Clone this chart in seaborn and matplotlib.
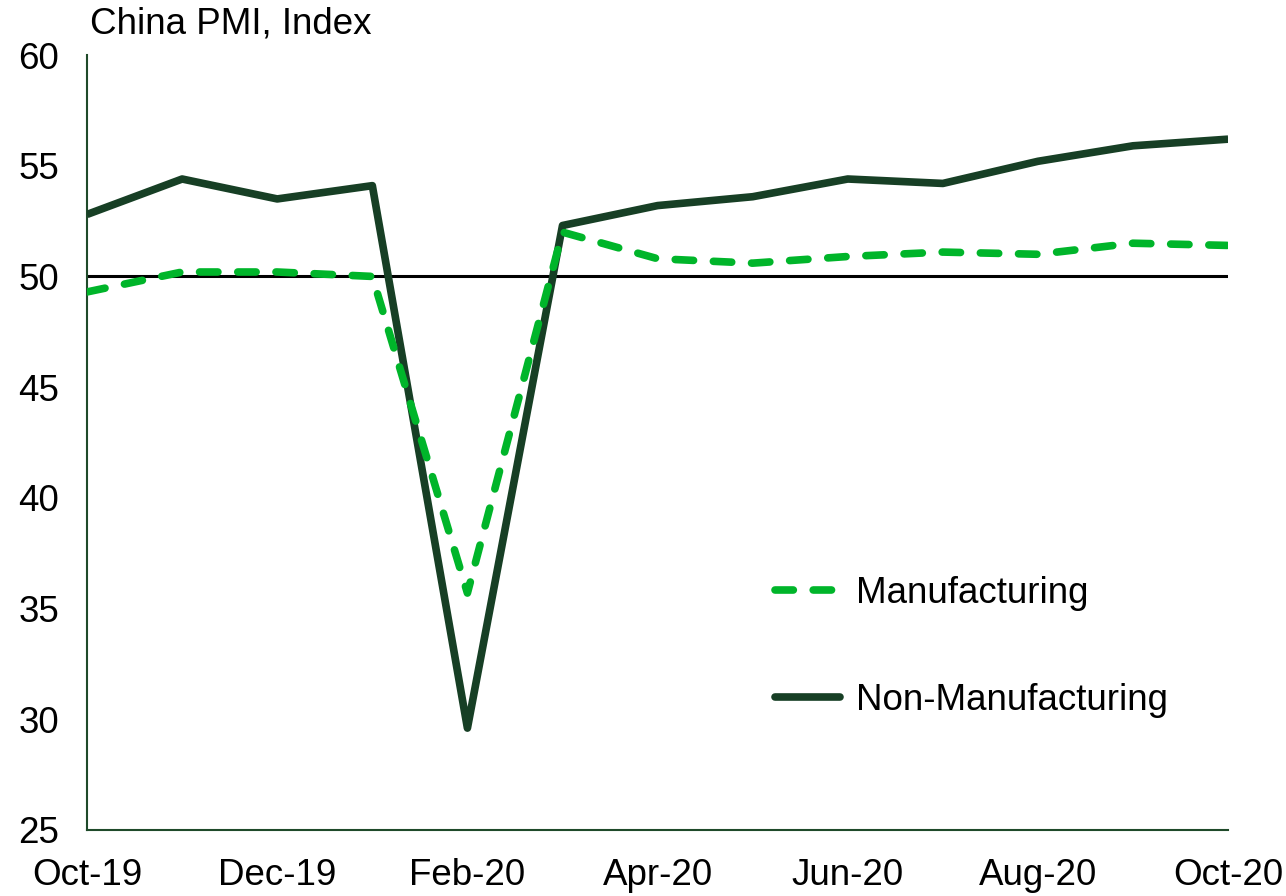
import pandas as pd
import matplotlib.pyplot as plt
import seaborn as sns

# China PMI data, Oct-19 to Oct-20
months = ['Oct-19', 'Nov-19', 'Dec-19', 'Jan-20', 'Feb-20', 'Mar-20', 'Apr-20',
          'May-20', 'Jun-20', 'Jul-20', 'Aug-20', 'Sep-20', 'Oct-20']
manufacturing = [49.3, 50.2, 50.2, 50.0, 35.7, 52.0, 50.8, 50.6, 50.9, 51.1, 51.0, 51.5, 51.4]
non_manufacturing = [52.8, 54.4, 53.5, 54.1, 29.6, 52.3, 53.2, 53.6, 54.4, 54.2, 55.2, 55.9, 56.2]
tick_labels = ['Oct-19', 'Dec-19', 'Feb-20', 'Apr-20', 'Jun-20', 'Aug-20', 'Oct-20']

df = pd.DataFrame({'month': months, 'Manufacturing': manufacturing,
                   'Non-Manufacturing': non_manufacturing})
df['pos'] = range(len(df))
long_df = df.melt(id_vars=['month', 'pos'], var_name='series', value_name='value')

sns.set_style('white')
plt.rcParams['font.family'] = ['Liberation Sans', 'DejaVu Sans']
plt.rcParams['text.color'] = 'black'

fig = plt.figure(figsize=(12.86, 8.96), dpi=100)
ax = fig.add_axes([0.0677, 0.0737, 0.955 - 0.0677, 0.9386 - 0.0737])

ax.axhline(50, color='black', lw=2.2, zorder=1)

colors = {'Manufacturing': '#00b52a', 'Non-Manufacturing': '#173f25'}
sns.lineplot(data=long_df, x='pos', y='value', hue='series', style='series',
             palette=colors, dashes={'Manufacturing': (2.4, 2.6), 'Non-Manufacturing': ''},
             hue_order=['Non-Manufacturing', 'Manufacturing'],
             style_order=['Non-Manufacturing', 'Manufacturing'],
             lw=5.5, ax=ax, legend=True, zorder=3)

for line in ax.get_lines()[1:]:
    line.set_dash_capstyle('round')
    line.set_solid_capstyle('butt')

handles, labels = ax.get_legend_handles_labels()
hmap = dict(zip(labels, handles))
for h in hmap.values():
    h.set_dash_capstyle('round')
    h.set_solid_capstyle('round')
    h.set_linewidth(5.5)
ax.legend([hmap['Manufacturing'], hmap['Non-Manufacturing']],
          ['Manufacturing', 'Non-Manufacturing'],
          loc='upper left', bbox_to_anchor=(0.574, 0.37), frameon=False,
          fontsize=26.5, handlelength=1.75, handletextpad=0.45, labelspacing=1.95)

ax.set_xlim(0, len(months) - 1)
ax.set_ylim(25, 60)
ax.set_xticks(range(0, len(months), 2))
ax.set_xticklabels(tick_labels)
ax.set_yticks(range(25, 61, 5))
ax.tick_params(axis='both', labelsize=26.5, length=0, colors='black')
ax.tick_params(axis='x', pad=20)
ax.tick_params(axis='y', pad=20)
ax.set_xlabel('')
ax.set_ylabel('')

for side in ['top', 'right']:
    ax.spines[side].set_visible(False)
for side in ['left', 'bottom']:
    ax.spines[side].set_color('#1f4a2a')
    ax.spines[side].set_linewidth(1.5)

fig.text(0.0700, 0.973, 'China PMI, Index', fontsize=26.5, ha='left', va='center')

fig.savefig('out.png', dpi=100)
